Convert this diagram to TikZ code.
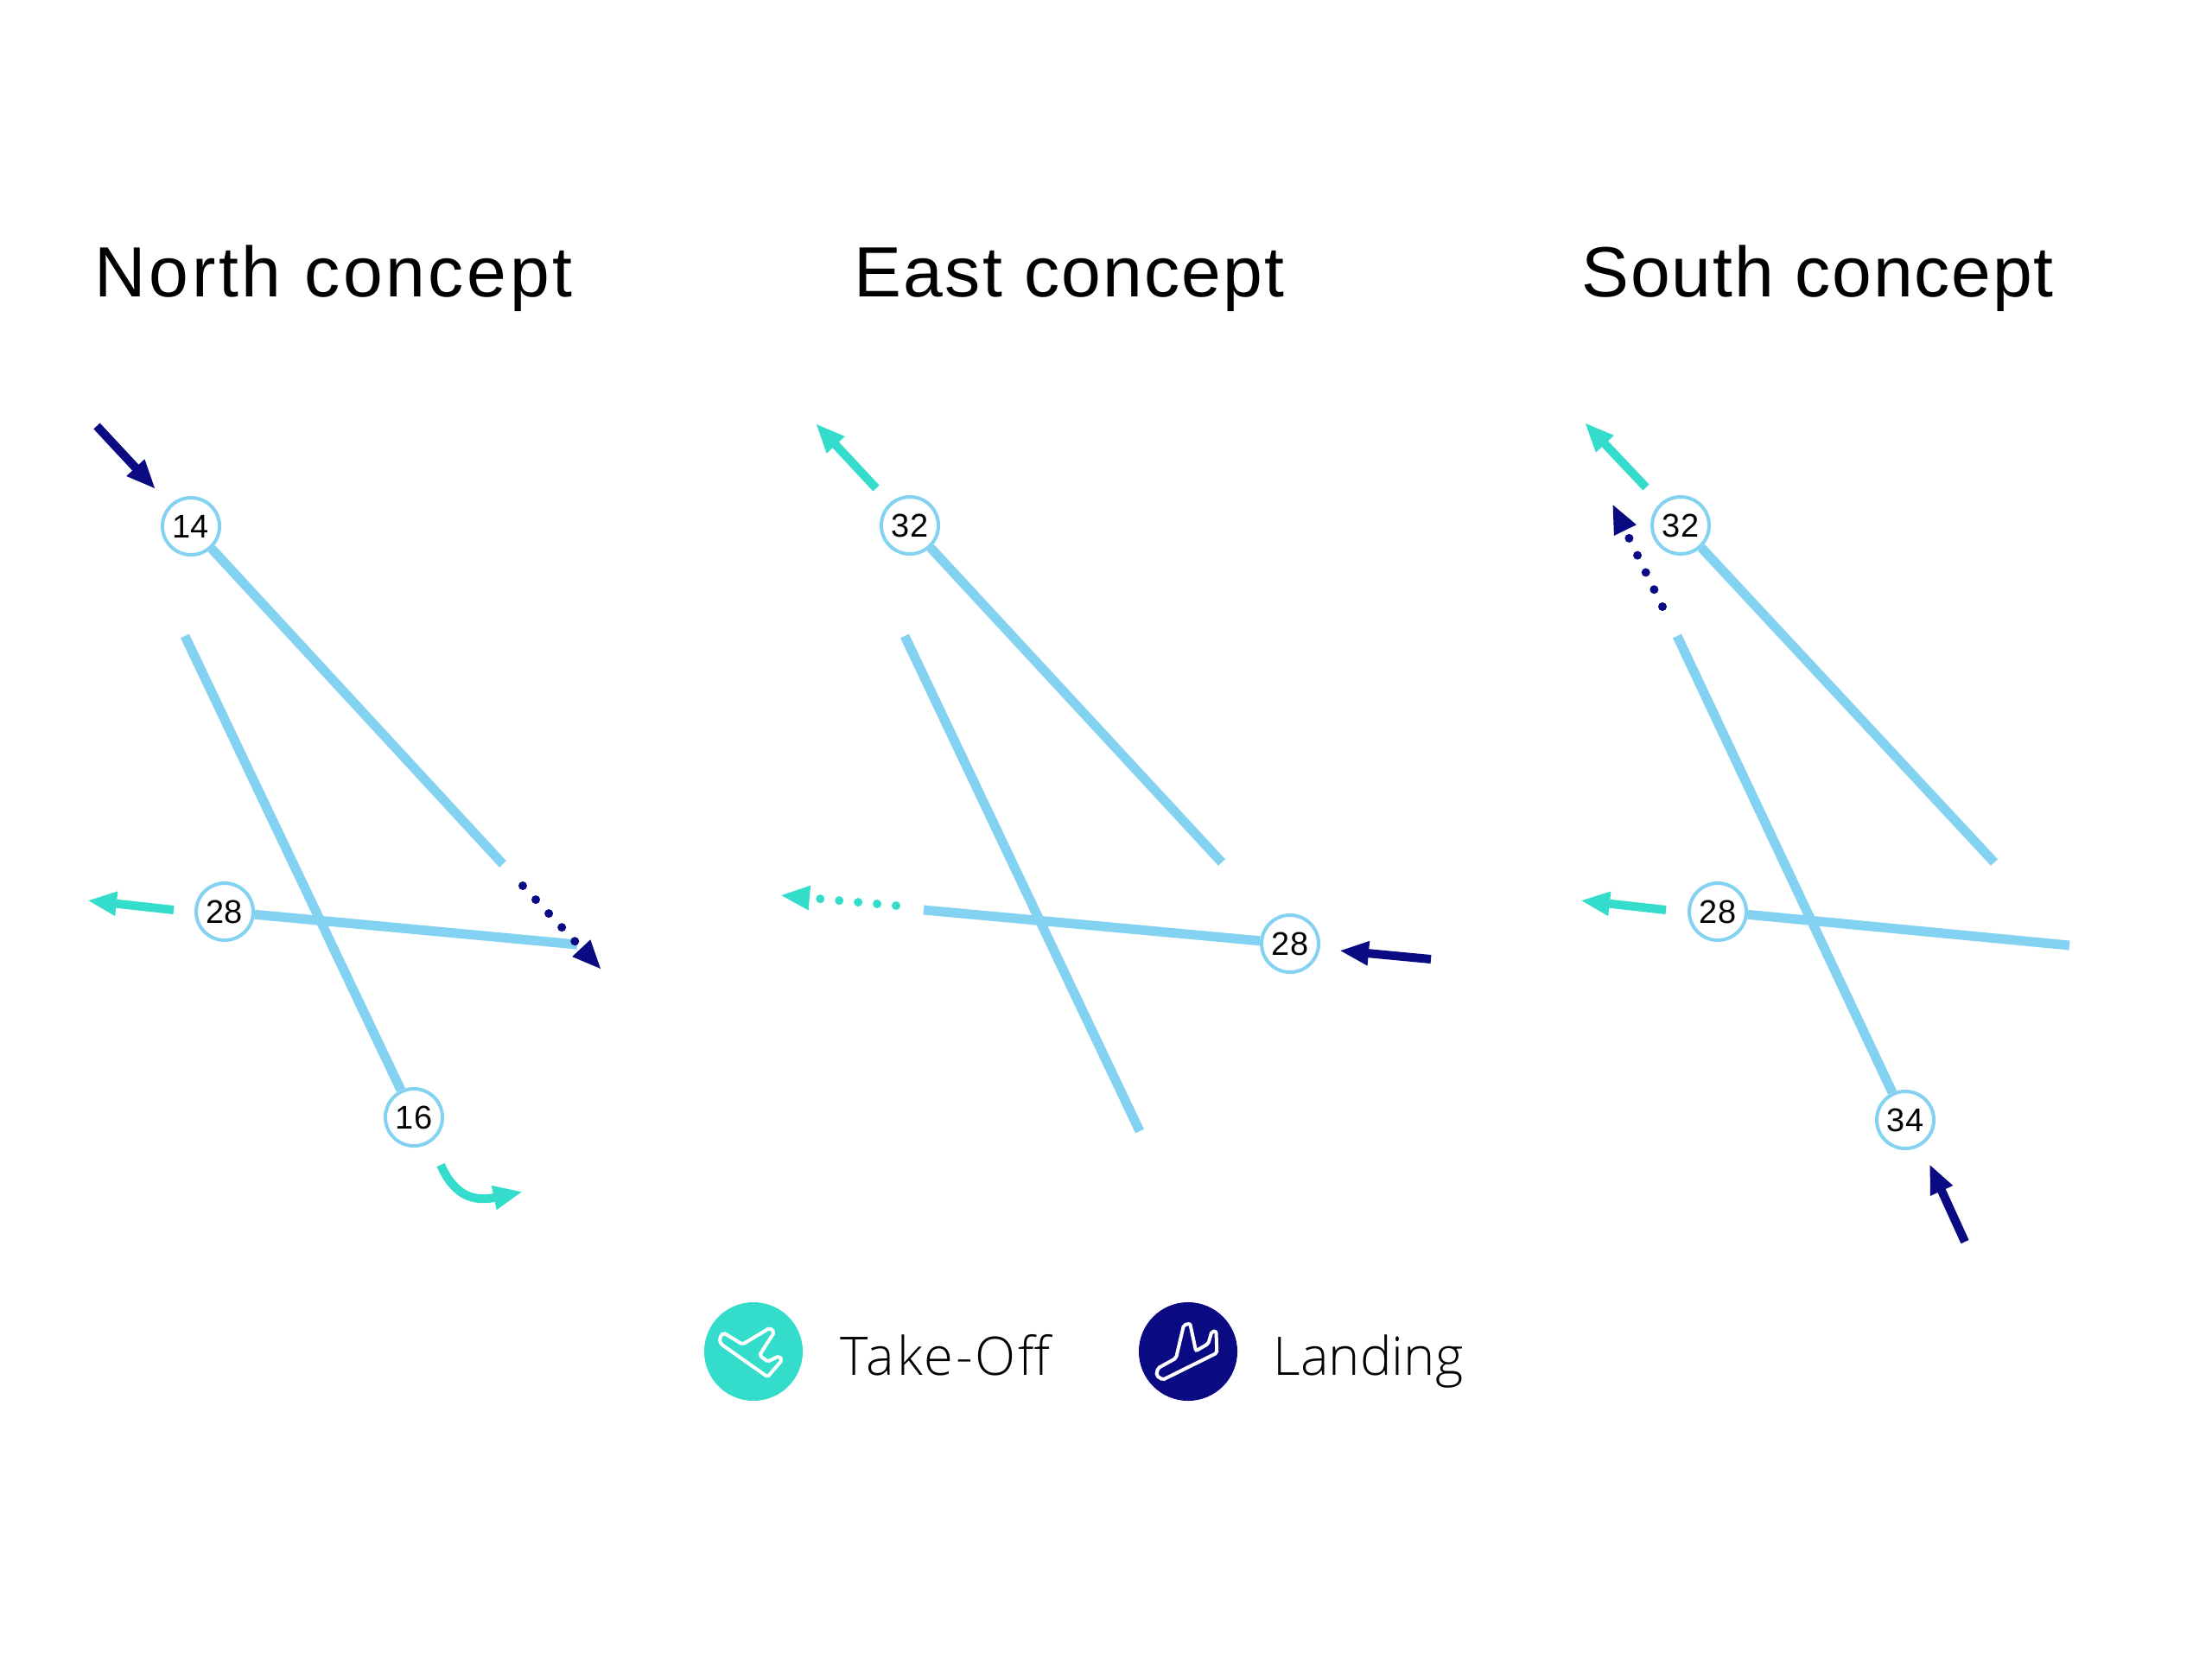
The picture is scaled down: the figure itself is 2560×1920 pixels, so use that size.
\documentclass[tikz,border=0pt]{standalone}
\usepackage{fontspec}
\setmainfont{Liberation Sans}
\newfontfamily\lightfont{Open Sans Light}
\usetikzlibrary{arrows.meta}
\definecolor{landcol}{HTML}{0A0A82}
\definecolor{takecol}{HTML}{34DDCB}
\definecolor{waycol}{HTML}{84D2F1}
\newcommand{\headtext}[2]{\addfontfeature{LetterSpace=#1}#2}
\tikzset{
	runway/.style={draw=waycol, line width=0.11cm},
	thr/.style={circle, draw=waycol, line width=0.04cm, fill=white, inner sep=0pt, minimum size=0.66cm, font=\fontsize{10.8}{11}\selectfont},
	flight/.style={line width=0.1cm, -{Triangle[length=0.34cm,width=0.26cm]}},
	dots/.style={line width=0.1cm, line cap=round, dash pattern=on 0pt off 0.22cm, -{Triangle[length=0.34cm,width=0.26cm]}},
	heading/.style={anchor=base west, inner sep=0pt, font=\fontsize{23.4}{24}\selectfont},
	legend/.style={anchor=base west, inner sep=0pt, font=\lightfont\fontsize{17.5}{17.5}\selectfont},
	legdisc/.style={circle, inner sep=0pt, minimum size=1.14cm},
	icon/.style={draw=white, line width=0.04cm, rounded corners=0.02cm}
}
\begin{document}
\begin{tikzpicture}[x=0.01cm, y=-0.01cm]
\useasboundingbox (0,0) rectangle (2560,1920);

% North
\node[heading] (titleN) at (109,343) {\headtext{4.5}{North concept}};
\node[thr] (n14) at (221,609) {14};
\node[thr] (n28) at (260,1055) {28};
\node[thr] (n16) at (479,1293) {16};
\coordinate (n14end) at (582,1000);
\coordinate (n28end) at (668,1093);
\coordinate (n16end) at (214,736);
\draw[runway] (n14) -- (n14end);
\draw[runway] (n28) -- (n28end);
\draw[runway] (n16) -- (n16end);
\draw[flight, landcol] (112,493) coordinate (n14a) -- (180,566) coordinate (n14b);
\draw[dots, landcol] (605,1025) coordinate (n14c) -- (696,1122) coordinate (n14d);
\draw[flight, takecol] (201,1053) coordinate (n28a) -- (101,1042) coordinate (n28b);
\draw[flight, takecol] (510,1348) coordinate (n16a) .. controls (526,1384) and (548,1391) .. (605,1379) coordinate (n16b);

% East
\node[heading] (titleE) at (988,343) {\headtext{2.7}{East concept}};
\node[thr] (e32) at (1053,608) {32};
\node[thr] (e28) at (1493,1092) {28};
\coordinate (e32end) at (1414,998);
\coordinate (e28end) at (1069,1053);
\coordinate (e16a) at (1047,736);
\coordinate (e16b) at (1319,1309);
\draw[runway] (e32) -- (e32end);
\draw[runway] (e28) -- (e28end);
\draw[runway] (e16a) -- (e16b);
\draw[flight, takecol] (1014,565) coordinate (e32a) -- (944,490) coordinate (e32b);
\draw[dots, takecol] (1037,1048) coordinate (e28a) -- (903,1036) coordinate (e28b);
\draw[flight, landcol] (1656,1110) coordinate (e28c) -- (1550,1100) coordinate (e28d);

% South
\node[heading] (titleS) at (1830,343) {\headtext{2.2}{South concept}};
\node[thr] (s32) at (1945,608) {32};
\node[thr] (s28) at (1988,1055) {28};
\node[thr] (s34) at (2205,1296) {34};
\coordinate (s32end) at (2308,998);
\coordinate (s28end) at (2395,1094);
\coordinate (s34end) at (1941,736);
\draw[runway] (s32) -- (s32end);
\draw[runway] (s28) -- (s28end);
\draw[runway] (s34) -- (s34end);
\draw[flight, takecol] (1905,564) coordinate (s32a) -- (1834,489) coordinate (s32b);
\draw[dots, landcol] (1924,702) coordinate (s32c) -- (1866,583) coordinate (s32d);
\draw[flight, takecol] (1928,1053) coordinate (s28a) -- (1829,1042) coordinate (s28b);
\draw[flight, landcol] (2274,1437) coordinate (s34a) -- (2233,1347) coordinate (s34b);

% legend
\node[legdisc, fill=takecol] (takedisc) at (872,1564) {};
\node[legdisc, fill=landcol] (landdisc) at (1375,1564) {};
\node[legend] (taketext) at (972,1591) {\addfontfeature{LetterSpace=4.5}Take-Off};
\node[legend] (landtext) at (1473,1591) {Landing};
\draw[icon] (832.7,1548.3) -- (837.3,1542.3) -- (859.3,1555.7) -- (891,1536.7) -- (896,1541.7) -- (879,1568.3) -- (888.3,1575.7) -- (901.7,1569.3) -- (905,1574) -- (888.3,1593.3) -- (834,1555) -- cycle;
\draw[icon] (1370,1533.3) -- (1377.3,1531.7) -- (1384,1563.3) -- (1398.3,1555) -- (1402.5,1540.7) -- (1407.5,1540.7) -- (1408.3,1565.7) -- (1345.7,1596.7) -- (1338.3,1591.7) -- (1340,1583.3) -- (1361,1571.7) -- cycle;
\end{tikzpicture}
\end{document}
